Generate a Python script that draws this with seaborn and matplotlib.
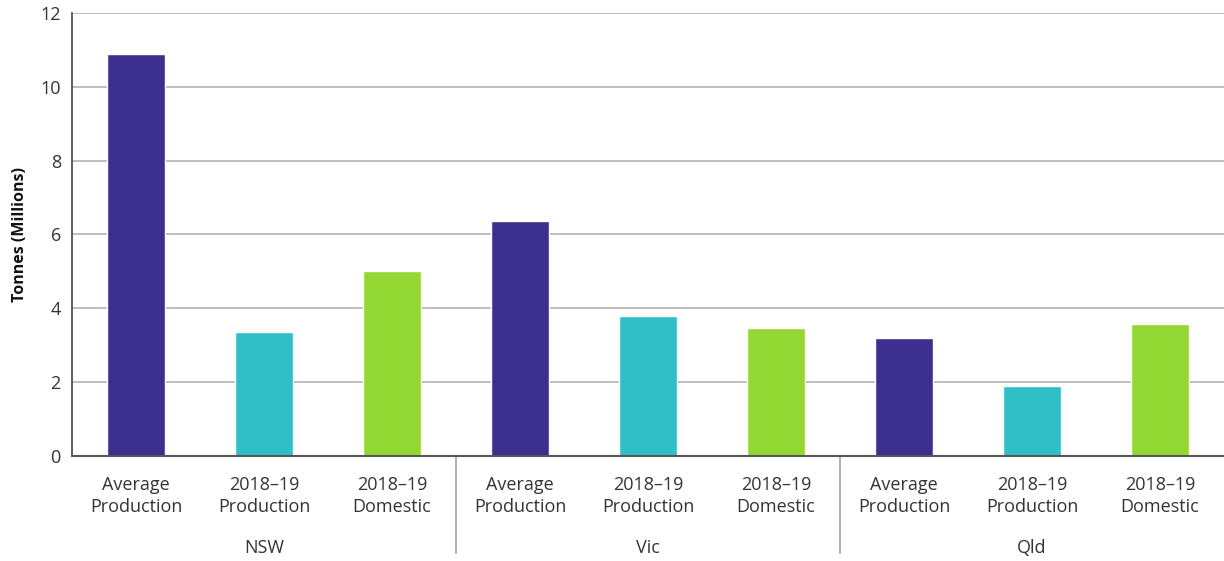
import matplotlib
matplotlib.use("Agg")
import matplotlib.pyplot as plt
import seaborn as sns
import pandas as pd
from matplotlib.lines import Line2D

states = ["NSW", "Vic", "Qld"]
categories = ["Average\nProduction", "2018–19\nProduction", "2018–19\nDomestic"]
nsw_values = [10.9, 3.36, 5.01]
vic_values = [6.37, 3.79, 3.47]
qld_values = [3.20, 1.90, 3.58]
colors = ["#3C2F8F", "#31BFC7", "#93D732"]
y_ticks = [0, 2, 4, 6, 8, 10, 12]

rows = []
for s, vals in zip(states, [nsw_values, vic_values, qld_values]):
    for c, v in zip(categories, vals):
        rows.append({"state": s, "category": c, "key": f"{s}|{c}", "value": v})
df = pd.DataFrame(rows)

sns.set_theme(style="white")
plt.rcParams['font.family'] = ['Open Sans', 'DejaVu Sans']

fig = plt.figure(figsize=(12.24, 5.61), dpi=100)
ax = fig.add_axes([0.0588, 0.187, 0.9412, 0.790])

sns.barplot(data=df, x="key", y="value", hue="category", palette=colors,
            dodge=False, width=0.46, ax=ax, legend=False, saturation=1)

ax.set_ylim(0, 12)
ax.set_xlim(-0.5, len(df) - 0.5)
ax.set_yticks(y_ticks)
ax.set_yticklabels([str(t) for t in y_ticks], fontsize=13, color="#333333")
ax.set_xticks(range(len(df)))
ax.set_xticklabels(df["category"].tolist(), fontsize=13, color="#333333", linespacing=1.35)
ax.tick_params(axis="x", length=0, pad=14)
ax.tick_params(axis="y", length=0, pad=8)
ax.set_xlabel("")
ax.set_ylabel("Tonnes (Millions)", fontsize=11.5, fontweight="bold", color="#111111", labelpad=9)

ax.yaxis.grid(True, color="#b3b3b3", linewidth=1.2)
ax.set_axisbelow(True)
for side in ["top", "right"]:
    ax.spines[side].set_visible(False)
ax.spines["left"].set_color("#444444")
ax.spines["left"].set_linewidth(1.2)
ax.spines["bottom"].set_color("#555555")
ax.spines["bottom"].set_linewidth(1.5)

trans = matplotlib.transforms.blended_transform_factory(ax.transData, ax.transAxes)
n = len(categories)
for i, s in enumerate(states):
    center = i * n + (n - 1) / 2
    ax.text(center, -0.207, s, transform=trans, ha="center", va="center",
            fontsize=13, color="#333333")
    if i > 0:
        xsep = i * n - 0.5
        ax.add_line(Line2D([xsep, xsep], [0, -0.219], transform=trans,
                           color="#b3b3b3", linewidth=1.5, clip_on=False))

fig.savefig("out.png", dpi=100)
